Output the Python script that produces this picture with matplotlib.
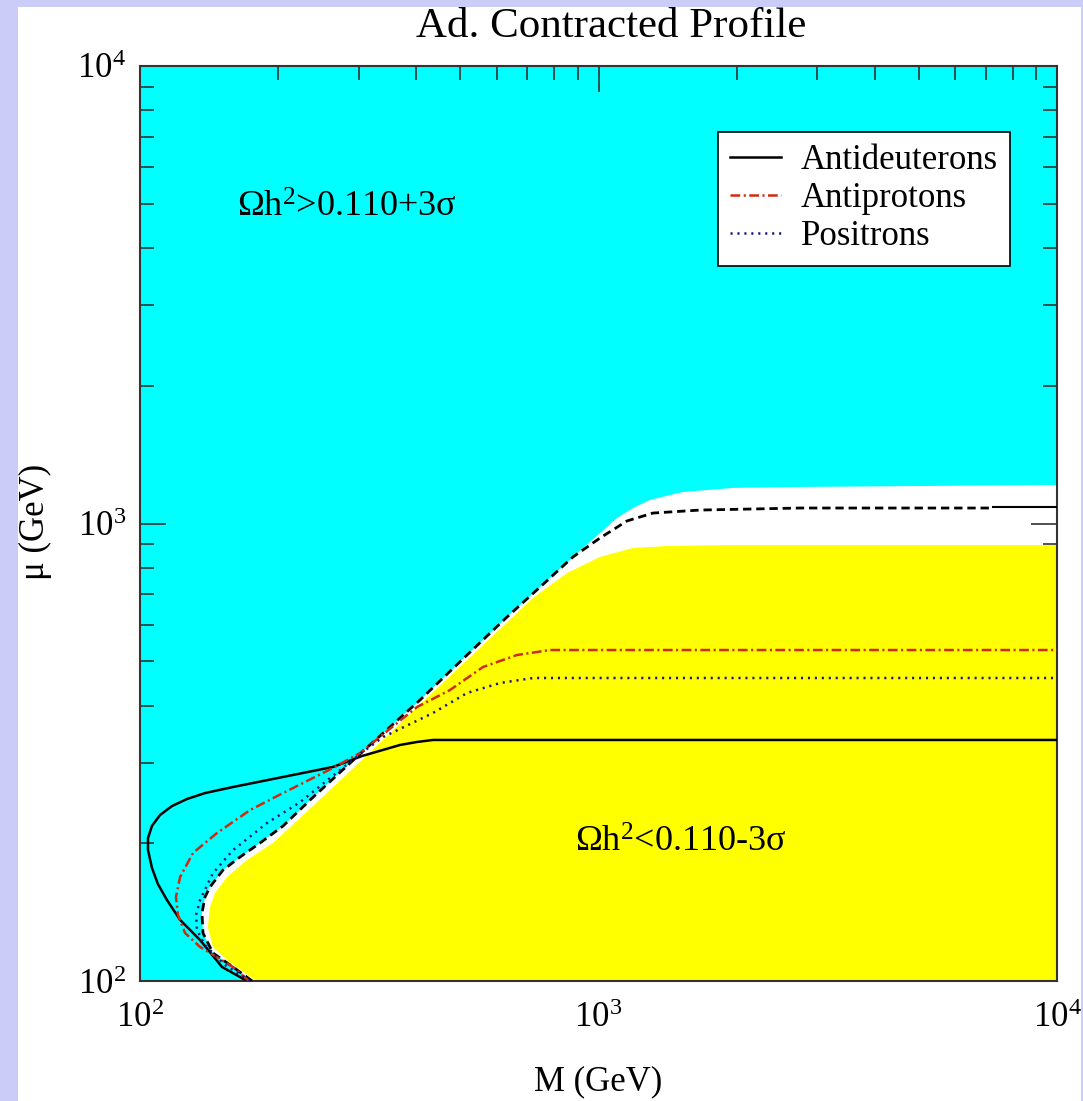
import numpy as np
import matplotlib as mpl
import matplotlib.pyplot as plt
from matplotlib.patches import Rectangle

mpl.rcParams['font.family'] = ['Liberation Serif', 'DejaVu Serif']
mpl.rcParams['mathtext.fontset'] = 'custom'
mpl.rcParams['mathtext.rm'] = 'Liberation Serif'
mpl.rcParams['mathtext.it'] = 'Liberation Serif:italic'
mpl.rcParams['lines.scale_dashes'] = False

# relic density boundary (dashed) : M, mu in GeV
bound_M = [175.6, 159.6, 144.3, 137.2, 136.5, 138.6, 142.1, 151.7, 165.2, 182.7, 205.0,
           234.8, 305.0, 408.0, 516.8, 631.6, 745.6, 879.9, 1007.6, 1154, 1315, 1665, 2751, 7253]
bound_mu = [100, 107.3, 115.1, 127.3, 140.8, 152.6, 160.5, 174.8, 186.6, 200.3, 218.1,
            248.6, 316.6, 411.3, 515.9, 624.6, 726.3, 845.2, 929.6, 1013, 1054, 1070, 1081, 1081]
bound_tail_M = [7253, 10000]
bound_tail_mu = [1087, 1087]

# upper edge of the allowed (white) band beyond the bend
white_M = [1007.6, 1097, 1189, 1295, 1529, 1965, 2751, 10000]
white_mu = [953, 1028, 1081, 1126, 1172, 1196, 1202, 1214]

# underabundant region (yellow) edge
low_M = [179.1, 154.8, 144.3, 140.6, 142.1, 145.7, 154.8, 171.2, 195.0, 223.4, 305.0,
         435.5, 560.0, 719.6, 854.3, 1007.6, 1189, 1411, 1965, 10000]
low_mu = [100, 111.1, 118.7, 131.2, 145.1, 155.7, 168.7, 183.9, 200.3, 227.1, 304.2,
          428.2, 542.5, 687.4, 779.6, 845.2, 884.1, 892.9, 897.5, 897.5]

# detection reach curves
deut_M = [171.2, 151.0, 135.2, 122.3, 114.5, 109.4, 106.2, 104.1, 104.1, 106.2, 110.6,
          117.4, 126.6, 138.6, 159.6, 205.0, 263.6, 305.0, 369.0, 401.9, 435.5, 10000]
deut_mu = [100, 107.3, 122.9, 136.0, 150.3, 162.9, 176.6, 193.3, 205.3, 218.3, 230.6,
           241.2, 249.9, 257.5, 265.5, 279.2, 293.7, 310.3, 328.0, 333.0, 336.4, 336.4]

pbar_M = [172.9, 159.6, 135.2, 125.4, 121.0, 119.8, 122.3, 130.5, 147.2, 173.8, 205.0,
          263.6, 301.9, 401.9, 474.4, 560.0, 664.2, 783.9, 10000]
pbar_mu = [100, 107.3, 118.7, 127.3, 139.4, 152.6, 168.7, 190.5, 210.6, 236.4, 257.5,
           292.2, 315.0, 397.1, 432.6, 485.7, 515.9, 529.0, 529.0]

pos_M = [173.8, 153.2, 138.6, 133.1, 132.5, 135.2, 144.3, 159.6, 189.2, 223.4, 301.9,
         338.8, 435.5, 516.8, 609.9, 719.6, 10000]
pos_mu = [100, 108.4, 119.8, 129.3, 139.4, 150.3, 172.2, 193.3, 221.4, 246.0, 313.4,
          341.3, 385.3, 426.1, 448.1, 459.5, 459.5]

fig = plt.figure(figsize=(10.83, 11.01), dpi=100, facecolor='#ccccf8')
fig.patches.append(Rectangle((18 / 1083, 0), 1063 / 1083, 1094 / 1101,
                             transform=fig.transFigure, facecolor='white',
                             edgecolor='none', zorder=-10))

ax = fig.add_axes([140 / 1083, 120 / 1101, 917 / 1083, 915 / 1101])
ax.set_facecolor('#00ffff')
ax.set_xscale('log')
ax.set_yscale('log')

ax.fill(bound_M[:18] + white_M + [10000], bound_mu[:18] + white_mu + [100],
        color='white', lw=0, zorder=1)
ax.fill(low_M + [10000], low_mu + [100], color='#ffff00', lw=0, zorder=2)

ax.plot(bound_M, bound_mu, color='black', lw=2.0, dashes=(6, 3.5), zorder=4)
ax.plot(bound_tail_M, bound_tail_mu, color='black', lw=1.5, zorder=4)
ax.plot(deut_M, deut_mu, color='black', lw=1.8, label='Antideuterons', zorder=5)
ax.plot(pbar_M, pbar_mu, color='#d02a10', lw=1.8, dashes=(7, 2.5, 1.5, 2.5),
        label='Antiprotons', zorder=5)
ax.plot(pos_M, pos_mu, color='#14147a', lw=1.8, dashes=(1.5, 3.5),
        label='Positrons', zorder=5)

ax.set_xlim(100, 10000)
ax.set_ylim(100, 10000)

ax.tick_params(which='both', direction='in', top=True, right=True,
               color='#333333', width=1.2, labelsize=25)
ax.tick_params(which='major', length=19, pad=10)
ax.tick_params(axis='x', which='major', pad=15)
ax.tick_params(which='minor', length=10)
for sp in ax.spines.values():
    sp.set_linewidth(1.5)
    sp.set_color('#333333')

ax.set_xlabel('M (GeV)', fontsize=25, va='bottom')
ax.xaxis.set_label_coords(0.4995, -0.1279)
ax.set_ylabel('μ (GeV)', fontsize=25)
ax.yaxis.set_label_coords(-0.096, 0.5016)

fig.text(611 / 1083, 1 - 37 / 1101, 'Ad. Contracted Profile', fontsize=31,
         ha='center', va='baseline')

ax.text(162.8, 4894, r'Ωh$^2$>0.110+3σ', fontsize=26, ha='left', va='center', zorder=6)
ax.text(888.8, 200.3, r'Ωh$^2$<0.110-3σ', fontsize=26, ha='left', va='center', zorder=6)

leg = ax.legend(loc='upper right', bbox_to_anchor=(0.949, 0.928), fontsize=25,
                fancybox=False, edgecolor='black', framealpha=1,
                handlelength=1.47, handletextpad=0.58, labelspacing=0.15,
                borderpad=0.35, borderaxespad=0)
leg.get_frame().set_linewidth(1.2)

fig.savefig('out.png', dpi=100, facecolor=fig.get_facecolor())
